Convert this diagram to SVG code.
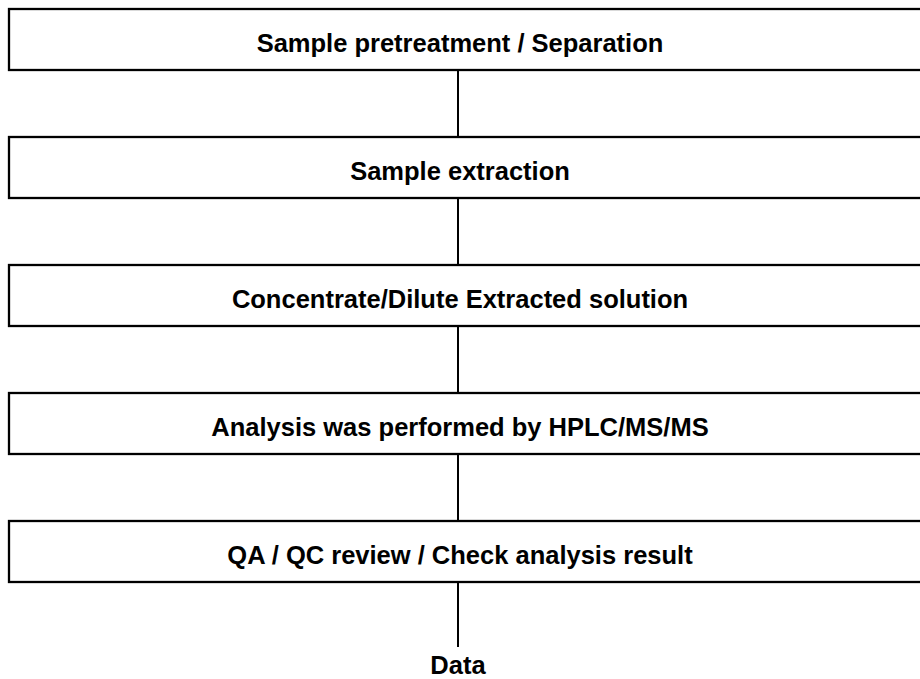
<svg xmlns="http://www.w3.org/2000/svg" width="920" height="679" viewBox="0 0 920 679">
<style>
.box{fill:#fff;stroke:#000;stroke-width:2.3}
.lbl{font-family:"Liberation Sans",Arial,sans-serif;font-weight:bold;font-size:25.5px;fill:#000;text-anchor:middle}
.con line{stroke:#000;stroke-width:2}
</style>
<rect width="920" height="679" fill="#fff"/>
<g class="con">
<line x1="458" y1="70" x2="458" y2="137"/>
<line x1="458" y1="198" x2="458" y2="265"/>
<line x1="458" y1="326" x2="458" y2="393"/>
<line x1="458" y1="454" x2="458" y2="521"/>
<line x1="458" y1="582" x2="458" y2="647"/>
</g>
<g id="n1"><rect class="box" x="9" y="9" width="1000" height="61"/><text class="lbl" x="460" y="51.5">Sample pretreatment / Separation</text></g>
<g id="n2"><rect class="box" x="9" y="137" width="1000" height="61"/><text class="lbl" x="460" y="179.5">Sample extraction</text></g>
<g id="n3"><rect class="box" x="9" y="265" width="1000" height="61"/><text class="lbl" x="460" y="307.5">Concentrate/Dilute Extracted solution</text></g>
<g id="n4"><rect class="box" x="9" y="393" width="1000" height="61"/><text class="lbl" x="460" y="435.5">Analysis was performed by HPLC/MS/MS</text></g>
<g id="n5"><rect class="box" x="9" y="521" width="1000" height="61"/><text class="lbl" x="460" y="563.5">QA / QC review / Check analysis result</text></g>
<g id="n6"><text class="lbl" x="458" y="673.5">Data</text></g>
</svg>
